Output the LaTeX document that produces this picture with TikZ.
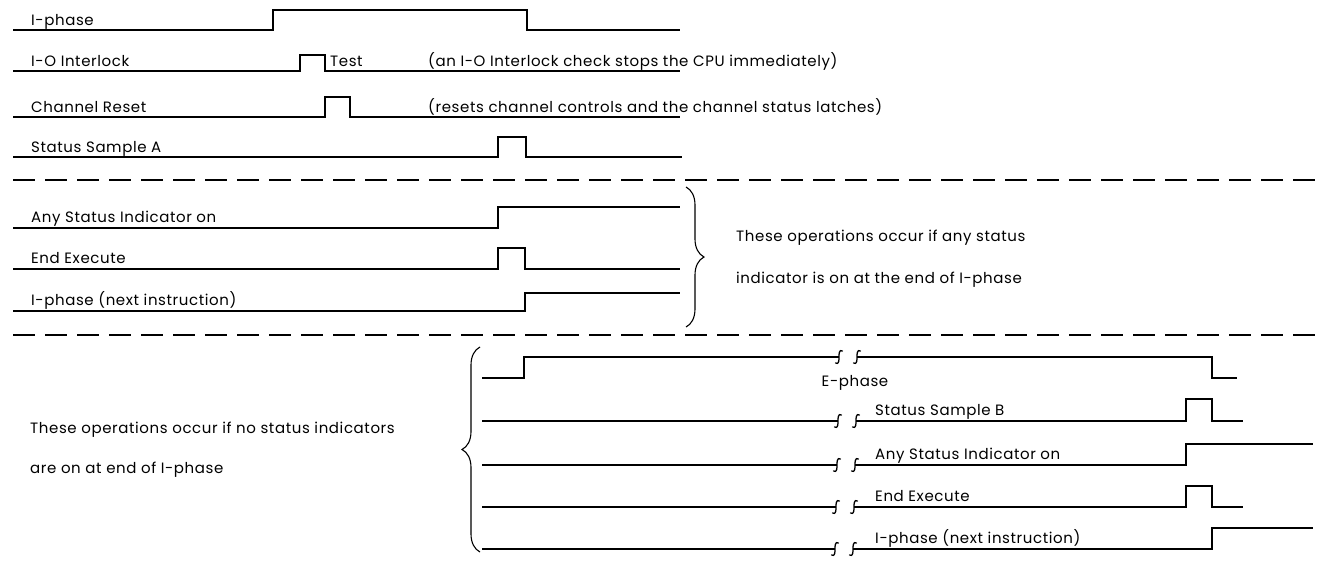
\documentclass[tikz,border=0pt]{standalone}
\usepackage{fontspec}
\setmainfont{Poppins}[LetterSpace=4]
\usetikzlibrary{decorations.pathreplacing}
\begin{document}
\begin{tikzpicture}[x=1pt,y=-1pt,
  wave/.style={line width=1.5pt,line join=miter},
  sep/.style={line width=1.5pt,dash pattern=on 22pt off 10pt},
  lbl/.style={anchor=base west,inner sep=0pt,font=\fontsize{15}{17}\selectfont},
  txt/.style={anchor=west,inner sep=0pt,font=\fontsize{15}{17}\selectfont},
  brc/.style={line width=1.1pt,decorate,decoration={brace,amplitude=18pt}},
  brk/.pic={\draw[line width=1.3pt,line cap=round] (3.5,-6) .. controls (0,-8) and (0,-3) .. (0,0) .. controls (0,3) and (0,8) .. (-3.5,6);}]
\useasboundingbox (0,0) rectangle (1325,560);
% ---------- top section ----------
\draw[wave] (13,30) -- (273,30) -- (273,10) -- (527,10) -- (527,30) -- (680,30);
\node[lbl] (l1) at (31,25) {I-phase};
\draw[wave] (13,71) -- (300,71) -- (300,55) -- (325,55) -- (325,71) -- (680,71);
\node[lbl] (l2) at (31,66) {I-O Interlock};
\node[lbl] (l2t) at (330,66) {Test};
\node[lbl] (l2c) at (428,66) {(an I-O Interlock check stops the CPU immediately)};
\draw[wave] (13,117) -- (325,117) -- (325,97) -- (350,97) -- (350,117) -- (680,117);
\node[lbl] (l3) at (31,112) {Channel Reset};
\node[lbl] (l3c) at (428,112) {(resets channel controls and the channel status latches)};
\draw[wave] (13,157) -- (498,157) -- (498,137) -- (526,137) -- (526,157) -- (682,157);
\node[lbl] (l4) at (31,152) {Status Sample A};
\draw[sep] (13,180) -- (1325,180);
% ---------- middle section ----------
\draw[wave] (13,228) -- (498,228) -- (498,207) -- (680,207);
\node[lbl] (m1) at (31,222) {Any Status Indicator on};
\draw[wave] (13,269) -- (498,269) -- (498,248) -- (525,248) -- (525,269) -- (680,269);
\node[lbl] (m2) at (31,263) {End Execute};
\draw[wave] (13,311) -- (525,311) -- (525,293) -- (680,293);
\node[lbl] (m3) at (31,305) {I-phase (next instruction)};
\draw[brc] (686,187) -- (686,327);
\node[txt] (mt1) at (736,238) {These operations occur if any status};
\node[txt] (mt2) at (736,280) {indicator is on at the end of I-phase};
\draw[sep] (13,335) -- (1325,335);
% ---------- bottom section ----------
\draw[brc] (480,552) -- (480,347);
\node[txt] (bt1) at (30,430) {These operations occur if no status indicators};
\node[txt] (bt2) at (30,470) {are on at end of I-phase};
% E-phase
\draw[wave] (482,378) -- (524,378) -- (524,357) -- (839,357);
\draw[wave] (857,357) -- (1212,357) -- (1212,378) -- (1237,378);
\pic at (839,357) {brk}; \pic at (857,357) {brk};
\node[anchor=center,inner sep=0pt,font=\fontsize{15}{17}\selectfont] (e1) at (855,383) {E-phase};
% Status Sample B
\draw[wave] (482,421) -- (838,421);
\draw[wave] (856,421) -- (1186,421) -- (1186,399) -- (1212,399) -- (1212,421) -- (1243,421);
\pic at (838,421) {brk}; \pic at (856,421) {brk};
\node[lbl] (e2) at (875,415) {Status Sample B};
% Any Status Indicator on
\draw[wave] (482,465) -- (837,465);
\draw[wave] (855,465) -- (1186,465) -- (1186,444) -- (1313,444);
\pic at (837,465) {brk}; \pic at (855,465) {brk};
\node[lbl] (e3) at (875,459) {Any Status Indicator on};
% End Execute
\draw[wave] (482,507) -- (836,507);
\draw[wave] (854,507) -- (1186,507) -- (1186,486) -- (1212,486) -- (1212,507) -- (1243,507);
\pic at (836,507) {brk}; \pic at (854,507) {brk};
\node[lbl] (e4) at (875,501) {End Execute};
% I-phase (next instruction)
\draw[wave] (482,549) -- (835,549);
\draw[wave] (853,549) -- (1212,549) -- (1212,528) -- (1313,528);
\pic at (835,549) {brk}; \pic at (853,549) {brk};
\node[lbl] (e5) at (875,543) {I-phase (next instruction)};
\end{tikzpicture}
\end{document}
